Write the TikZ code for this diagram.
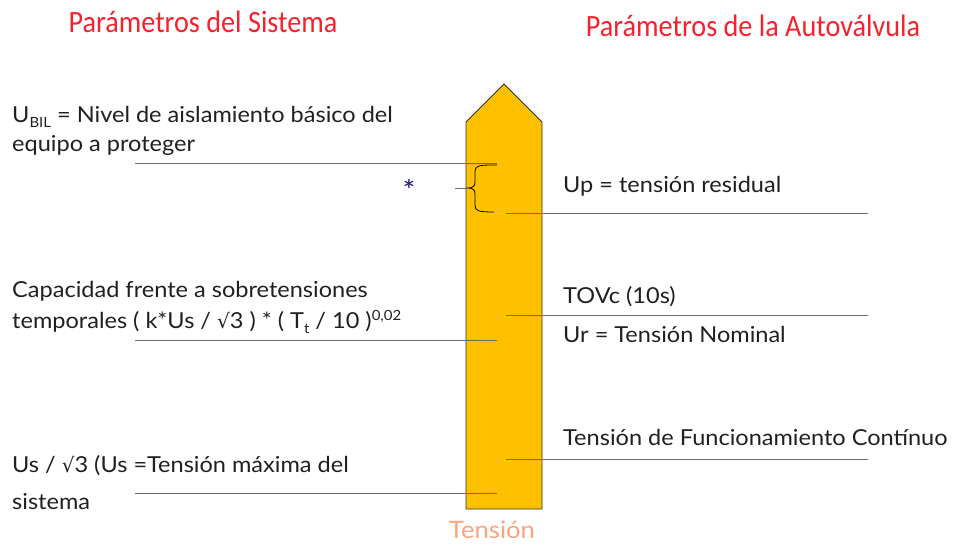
\documentclass[tikz,border=0pt]{standalone}
\usepackage{fontspec}
\setmainfont{Lato}[FakeStretch=1.07]
\newfontfamily\hdrfont{Carlito}[FakeStretch=0.91]
\newfontfamily\symfont{DejaVu Sans}
\usetikzlibrary{calc}
\definecolor{arrowyellow}{HTML}{FFC000}
\definecolor{hdrred}{HTML}{F5222D}
\definecolor{salmon}{HTML}{F8A47C}
\definecolor{txtdark}{HTML}{231F20}
\definecolor{linegray}{HTML}{6E6E6E}
\newcommand{\sqrtsym}{{\symfont\fontsize{20}{20}\selectfont √}}
\tikzset{
  x=1pt, y=-1pt,
  hdr/.style={font=\hdrfont\fontsize{31}{31}\selectfont, text=hdrred, inner sep=0pt, anchor=base},
  lbl/.style={font=\fontsize{22}{22}\selectfont, text=txtdark, inner sep=0pt, anchor=base west},
  lvl/.style={draw=linegray, line width=0.9pt},
  shaft/.style={draw=black!80, line width=0.8pt, fill=arrowyellow}
}
\begin{document}
\begin{tikzpicture}
\useasboundingbox (0,0) rectangle (955,545);
% headers
\node[hdr] (hsys) at (203,33) {Parámetros del Sistema};
\node[hdr] (haut) at (753,37) {Parámetros de la Autoválvula};
% arrow
\draw[shaft] (466,509) -- (466,122) -- (504,84) -- (542,122) -- (542,509) -- cycle;
\node[font=\fontsize{24}{24}\selectfont, text=salmon, inner sep=0pt, anchor=base] (tension) at (492,538) {Tensión};
% coordinates of the level lines
\coordinate (l1a) at (135,163); \coordinate (l1b) at (497,163);
\coordinate (l2a) at (135,340); \coordinate (l2b) at (497,340);
\coordinate (l3a) at (135,493); \coordinate (l3b) at (497,493);
\coordinate (r1a) at (506,213); \coordinate (r1b) at (868,213);
\coordinate (r2a) at (506,315); \coordinate (r2b) at (868,315);
\coordinate (r3a) at (506,459); \coordinate (r3b) at (868,459);
\draw[lvl] (l1a) -- (l1b);
\draw[lvl] (l2a) -- (l2b);
\draw[lvl] (l3a) -- (l3b);
\draw[lvl] (r1a) -- (r1b);
\draw[lvl] (r2a) -- (r2b);
\draw[lvl] (r3a) -- (r3b);
% brace
\coordinate (btip) at (468,188);
\coordinate (bstub) at (455,188);
\draw[black, line width=0.8pt] (497,165) .. controls (480,165) and (475,165) .. (475,172) -- (475,182)
  .. controls (475,186) and (473,188) .. (btip)
  .. controls (473,188) and (475,190) .. (475,194) -- (475,205)
  .. controls (475,211) and (478,212) .. (494,212);
\draw[lvl] (bstub) -- (btip);
\node[font=\fontsize{28}{28}\selectfont, text=txtdark!60!blue, inner sep=0pt] (star) at (409,190) {*};
% left labels
\node[lbl] (ubil1) at (12,123) {U\raisebox{-4.5pt}{\fontsize{14}{14}\selectfont BIL} = Nivel de aislamiento básico del};
\node[lbl] (ubil2) at (12,152) {equipo a proteger};
\node[lbl] (cap1) at (12,298) {Capacidad frente a sobretensiones};
\node[lbl] (cap2) at (12,328) {temporales ( k*Us / \sqrtsym3 ) * ( T\raisebox{-5pt}{\fontsize{14}{14}\selectfont t} / 10 )\raisebox{8pt}{\fontsize{14}{14}\selectfont 0,02}};
\node[lbl] (us1) at (12,472) {Us / \sqrtsym3 (Us =Tensión máxima del};
\node[lbl] (us2) at (12,509) {sistema};
% right labels
\node[lbl] (up) at (563,193) {Up = tensión residual};
\node[lbl] (tovc) at (563,303) {TOVc (10s)};
\node[lbl] (ur) at (563,342) {Ur = Tensión Nominal};
\node[lbl] (tfc) at (563,445) {Tensión de Funcionamiento Contínuo};
\end{tikzpicture}
\end{document}
